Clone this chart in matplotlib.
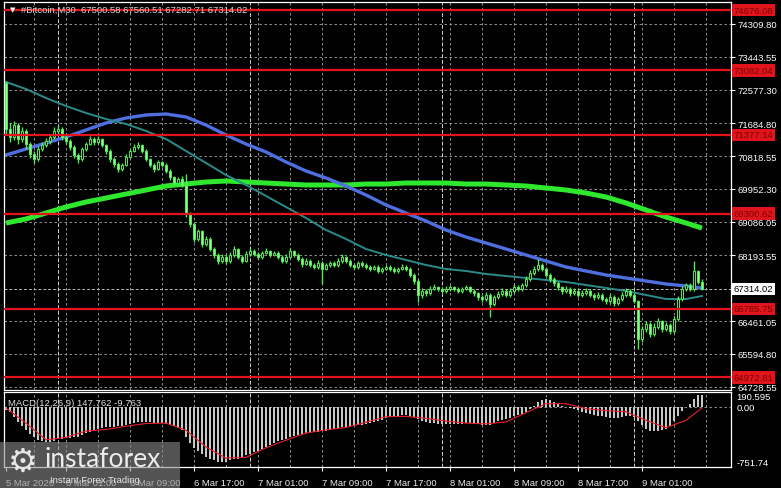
import numpy as np
import matplotlib.pyplot as plt
from matplotlib.patches import Rectangle
from matplotlib.transforms import blended_transform_factory

# ---- data (BTC M30, 5 Mar 17:30 .. 9 Mar 08:30) ----
open_first = 72750
close = [
    71540, 71320, 71640, 71270, 71480, 71140, 70880, 70740, 71010, 71110,
    71220, 71320, 71480, 71540, 71320, 71220, 71060, 70850, 70740, 71010,
    71140, 71270, 71190, 71270, 71110, 70960, 70740, 70610, 70480, 70590,
    70800, 70960, 71060, 71110, 70960, 70740, 70590, 70480, 70660, 70590,
    70430, 70270, 70110, 70220, 70060, 69290, 69030, 68630, 68840, 68500,
    68630, 68370, 68210, 68050, 68150, 68050, 68210, 68370, 68150, 68050,
    68230, 68310, 68230, 68150, 68260, 68310, 68210, 68260, 68150, 68050,
    68150, 68310, 68210, 68100, 67970, 68050, 67940, 67890, 68000, 67840,
    67940, 68000, 67940, 68050, 68150, 68050, 67940, 67890, 68000, 67940,
    67890, 67840, 67890, 67780, 67840, 67890, 67840, 67780, 67840, 67890,
    67840, 67680, 67520, 67150, 67260, 67200, 67310, 67360, 67310, 67260,
    67310, 67360, 67310, 67260, 67310, 67360, 67260, 67200, 67100, 67040,
    67150, 66910, 67100, 67180, 67260, 67150, 67260, 67360, 67310, 67410,
    67570, 67730, 67840, 67940, 67840, 67680, 67570, 67470, 67360, 67260,
    67310, 67200, 67260, 67150, 67200, 67260, 67150, 67100, 67150, 67040,
    66990, 67100, 66940, 67040, 67150, 67260, 67150, 66990, 65990, 66250,
    66380, 66120, 66310, 66460, 66250, 66360, 66200, 66520, 67040, 67310,
    67410, 67310, 67780, 67500.58, 67314.02]
high = [
    72800, 71700, 71760, 71700, 71600, 71540, 71200, 70950, 71080, 71200,
    71300, 71400, 71600, 71650, 71580, 71380, 71270, 71100, 70900, 71060,
    71200, 71350, 71330, 71340, 71300, 71150, 71000, 70800, 70660, 70650,
    70870, 71020, 71150, 71200, 71150, 71000, 70780, 70640, 70720, 70700,
    70630, 70470, 70300, 70280, 70300, 70350, 69350, 69080, 68900, 68880,
    68700, 68680, 68420, 68260, 68230, 68200, 68280, 68450, 68400, 68200,
    68300, 68380, 68360, 68280, 68320, 68380, 68350, 68320, 68300, 68200,
    68220, 68400, 68340, 68250, 68150, 68120, 68090, 67990, 68070, 68050,
    68000, 68060, 68040, 68120, 68240, 68190, 68090, 67980, 68060, 68050,
    67990, 67930, 67950, 67930, 67900, 67950, 67930, 67880, 67900, 67960,
    67940, 67880, 67720, 67560, 67330, 67300, 67380, 67430, 67400, 67350,
    67380, 67420, 67400, 67350, 67370, 67420, 67400, 67300, 67240, 67150,
    67220, 67190, 67160, 67250, 67330, 67300, 67330, 67430, 67410, 67480,
    67640, 67800, 67920, 68100, 67990, 67880, 67720, 67620, 67510, 67400,
    67390, 67350, 67330, 67300, 67270, 67330, 67300, 67200, 67220, 67190,
    67090, 67170, 67140, 67110, 67220, 67330, 67300, 67190, 67030, 66330,
    66460, 66430, 66400, 66540, 66500, 66440, 66410, 66600, 67120, 67380,
    67480, 67460, 68050, 67820, 67560.51]
low = [
    71400, 71200, 71250, 71150, 71180, 71000, 70780, 70650, 70700, 70950,
    71050, 71150, 71280, 71400, 71250, 71150, 70980, 70760, 70650, 70700,
    70960, 71100, 71120, 71130, 71050, 70880, 70660, 70540, 70400, 70420,
    70550, 70760, 70920, 71000, 70900, 70680, 70520, 70410, 70440, 70520,
    70370, 70200, 70050, 70060, 70000, 69200, 68950, 68550, 68580, 68420,
    68450, 68300, 68130, 67960, 68000, 67980, 68000, 68150, 68100, 67990,
    68010, 68180, 68180, 68100, 68110, 68220, 68160, 68170, 68100, 67990,
    68000, 68120, 68160, 68050, 67900, 67930, 67880, 67830, 67850, 67440,
    67800, 67900, 67890, 67900, 68000, 68000, 67890, 67830, 67850, 67890,
    67840, 67780, 67800, 67720, 67730, 67800, 67790, 67720, 67740, 67800,
    67790, 67620, 67450, 66960, 67080, 67120, 67150, 67270, 67250, 67200,
    67210, 67260, 67260, 67200, 67210, 67270, 67200, 67130, 67030, 66960,
    66990, 66570, 66850, 67050, 67130, 67090, 67100, 67210, 67250, 67260,
    67360, 67520, 67680, 67790, 67780, 67620, 67500, 67400, 67290, 67180,
    67200, 67130, 67150, 67090, 67100, 67140, 67090, 67030, 67050, 66980,
    66920, 66940, 66870, 66890, 66990, 67100, 67090, 66930, 65720, 65900,
    66180, 66040, 66060, 66250, 66180, 66190, 66120, 66150, 66470, 66980,
    67250, 67250, 67260, 67440, 67282.71]

# moving averages, read every 5th bar
ma_fast = [72777, 72592, 72355, 72143, 71958, 71800, 71668, 71483, 71272, 70955,
           70638, 70320, 70056, 69766, 69475, 69184, 68867, 68630, 68365, 68207,
           68075, 67943, 67837, 67784, 67705, 67652, 67599, 67546, 67494, 67414,
           67335, 67256, 67150, 67044, 67044, 67123]
ma_mid = [70849, 71007, 71166, 71324, 71509, 71694, 71826, 71906, 71932, 71853,
          71641, 71377, 71139, 70928, 70664, 70426, 70241, 70030, 69792, 69528,
          69316, 69105, 68867, 68682, 68524, 68365, 68207, 68048, 67890, 67784,
          67679, 67599, 67520, 67441, 67388, 67335]
ma_slow = [69052, 69158, 69316, 69475, 69607, 69712, 69818, 69924, 70030, 70082,
           70135, 70162, 70135, 70109, 70082, 70056, 70056, 70056, 70082, 70082,
           70109, 70109, 70109, 70082, 70082, 70056, 70030, 69977, 69924, 69845,
           69739, 69581, 69396, 69211, 69052, 68918]

macd = [
    -30, -60, -120, -190, -240, -290, -340, -380, -410, -425,
    -435, -433, -420, -405, -395, -390, -385, -380, -370, -350,
    -330, -310, -295, -280, -265, -255, -248, -245, -240, -232,
    -222, -210, -200, -190, -185, -185, -190, -195, -195, -200,
    -210, -225, -240, -260, -290, -380, -450, -510, -550, -590,
    -620, -650, -670, -685, -690, -685, -670, -655, -645, -630,
    -605, -585, -565, -545, -520, -495, -470, -450, -430, -410,
    -395, -375, -360, -350, -340, -330, -320, -315, -310, -305,
    -295, -285, -275, -265, -255, -250, -245, -240, -230, -220,
    -210, -200, -190, -175, -160, -140, -125, -115, -105, -100,
    -100, -110, -125, -150, -170, -185, -195, -205, -210, -215,
    -215, -212, -210, -210, -208, -205, -205, -208, -212, -218,
    -220, -225, -200, -180, -160, -145, -130, -110, -95, -80,
    -55, -20, 20, 60, 90, 100, 85, 65, 40, 20,
    5, -10, -25, -40, -55, -70, -85, -95, -105, -115,
    -125, -130, -135, -130, -120, -110, -110, -120, -180, -230,
    -270, -300, -305, -300, -290, -270, -240, -180, -110, -45,
    5, 40, 100, 150, 147.762]
macd_signal = [-10, -200, -410, -380, -300, -280, -240, -205, -200, -290,
               -500, -640, -630, -510, -415, -325, -285, -255, -190, -120,
               -115, -140, -175, -200, -210, -185, -70, 44, 44, -19,
               -44, -57, -165, -258, -165, -9.763]

levels = [74676.08, 73082.04, 71377.14, 69300.62, 66785.75, 64972.81]
grid_prices = [74309.80, 73443.55, 72577.30, 71684.80, 70818.55, 69952.30,
               69086.05, 68193.55, 66461.05, 65594.80, 64728.55]
bid = 67314.02
time_labels = ['5 Mar 2026', '6 Mar 01:00', '6 Mar 09:00', '6 Mar 17:00',
               '7 Mar 01:00', '7 Mar 09:00', '7 Mar 17:00', '8 Mar 01:00',
               '8 Mar 09:00', '8 Mar 17:00', '9 Mar 01:00']
time_label_bars = [0, 15, 31, 47, 63, 79, 95, 111, 127, 143, 159]
day_start_bars = [13, 61, 109, 157]

n = len(close)
idx = np.arange(n)
ma_idx = list(range(0, n, 5)) + [n - 1]
opens = [open_first] + close[:-1]

plt.rcParams['font.family'] = ['Liberation Sans', 'DejaVu Sans']

W, H = 781, 489
fig = plt.figure(figsize=(W / 100, H / 100), dpi=100, facecolor='black')


def box(l, t, r, b):
    return [l / W, 1 - b / H, (r - l) / W, (b - t) / H]


ax = fig.add_axes(box(4, 3, 731, 391))
axm = fig.add_axes(box(4, 393, 731, 468), sharex=ax)

grid_kw = dict(color='#a8a8a8', lw=0.6, ls=(0, (3, 3)), zorder=0)
for a in (ax, axm):
    a.set_facecolor('black')
    for s in a.spines.values():
        s.set_color('white')
        s.set_linewidth(0.9)
    for g in range(7, 182, 8):
        a.axvline(g, **grid_kw)
    for d in day_start_bars:
        a.axvline(d, color='#d0d0d0', lw=0.7, ls=(0, (4, 2)), zorder=0)

for p in grid_prices:
    ax.axhline(p, **grid_kw)
ax.axhline(bid, color='#b8b8b8', lw=0.7, ls=(0, (3, 2)), zorder=1)

# candles
green = '#4cf04c'
o = np.array(opens, dtype=float)
c = np.array(close, dtype=float)
ax.vlines(idx, low, high, color=green, lw=1.0, zorder=3)
up = c >= o
ax.bar(idx[up], (c - o)[up], bottom=o[up], width=0.7, color='black',
       edgecolor=green, lw=0.7, zorder=4)
ax.bar(idx[~up], (c - o)[~up], bottom=o[~up], width=0.7, color='#9af59a',
       edgecolor=green, lw=0.7, zorder=4)

# moving averages
ax.plot(ma_idx, ma_slow, color='#2ee82e', lw=3.6, zorder=2, solid_capstyle='butt')
ax.plot(ma_idx, ma_mid, color='#4f6fe0', lw=2.4, zorder=2)
ax.plot(ma_idx, ma_fast, color='#2a8c8a', lw=1.4, zorder=2)

for lv in levels:
    ax.axhline(lv, color='#e4141c', lw=1.6, zorder=5)

ax.set_xlim(-0.5, 181.25)
ax.set_ylim(64640, 74891)
ax.yaxis.tick_right()
ax.set_yticks(grid_prices)
ax.set_yticklabels([f'{p:.2f}' for p in grid_prices])
ax.tick_params(axis='y', colors='white', labelsize=6.8, length=3, width=0.8, pad=2)
ax.tick_params(axis='x', length=0, labelbottom=False)

tr = blended_transform_factory(ax.transAxes, ax.transData)
for lv in levels:
    ax.text(1.004, lv, f'{lv:.2f}', transform=tr, color='#7a0508', fontsize=6.8,
            va='center', ha='left', zorder=6,
            bbox=dict(boxstyle='square,pad=0.18', fc='#e0141a', ec='none'))
ax.text(1.004, bid, f'{bid:.2f}', transform=tr, color='black', fontsize=6.8,
        va='center', ha='left', zorder=6,
        bbox=dict(boxstyle='square,pad=0.18', fc='white', ec='none'))

ax.text(0.008, 0.982, '\u25bc', transform=ax.transAxes, color='white', fontsize=5,
        va='center', ha='left', family=['DejaVu Sans'], zorder=7)
ax.text(0.024, 0.982, '#Bitcoin,M30  67500.58 67560.51 67282.71 67314.02',
        transform=ax.transAxes, color='#d8d8d8', fontsize=6.8, va='center',
        ha='left', zorder=7)

# MACD panel
axm.bar(idx, macd, width=0.6, color='#c8c8c8', zorder=2)
axm.plot(ma_idx, macd_signal, color='#e8202a', lw=0.8, zorder=3)
axm.axhline(0, **grid_kw)
axm.set_ylim(-751.74, 190.595)
axm.yaxis.tick_right()
axm.set_yticks([190.595, 0, -751.74])
axm.set_yticklabels(['190.595', '0.00', '-751.74'])
axm.tick_params(axis='y', colors='white', labelsize=6.8, length=0, pad=4)
for lbl, va in zip(axm.get_yticklabels(), ['top', 'center', 'bottom']):
    lbl.set_va(va)
axm.set_xticks(time_label_bars)
axm.set_xticklabels(time_labels)
axm.tick_params(axis='x', colors='white', labelsize=6.8, length=3, width=0.8, pad=5)
for lbl in axm.get_xticklabels():
    lbl.set_ha('left')
    lbl.set_color('#e8e8e8')
axm.text(0.006, 0.86, 'MACD(12,26,9) 147.762 -9.763', transform=axm.transAxes,
         color='#e0e0e0', fontsize=6.8, va='center', ha='left', zorder=7)

# instaforex watermark (sits over the first axis labels, as in the source)
fig.patches.append(Rectangle((0, 0), 180 / W, 46 / H, transform=fig.transFigure,
                             facecolor='#8c8c8c', alpha=0.6, zorder=20))
fig.text(8 / W, 1 - 462 / H, '\u2699', color='#e6e6e6', fontsize=24,
         family=['DejaVu Sans'], va='center', ha='left', zorder=21)
fig.text(45 / W, 1 - 460 / H, 'instaforex', color='#ececec', fontsize=19,
         family=['Lato', 'DejaVu Sans'], va='center', ha='left', zorder=21)
fig.text(50 / W, 1 - 481 / H, 'Instant Forex Trading', color='#e6e6e6', fontsize=6.8,
         va='center', ha='left', zorder=21)

fig.savefig('out.png', dpi=100, facecolor='black')
